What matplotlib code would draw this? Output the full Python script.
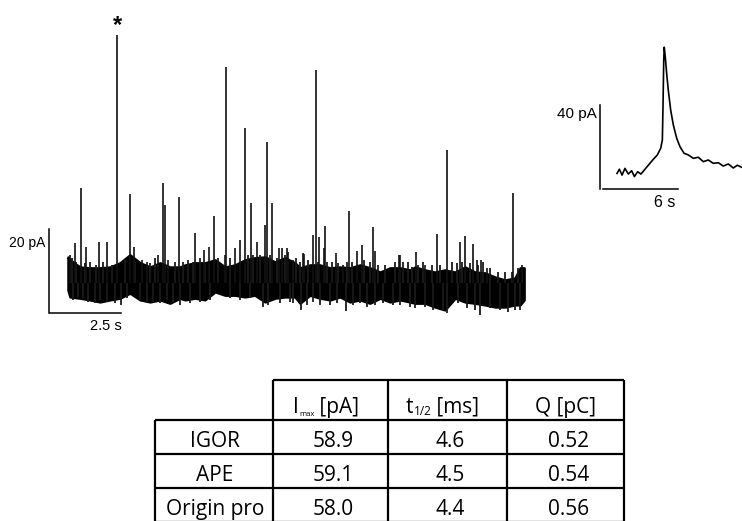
import matplotlib.pyplot as plt

# main recording: noise band envelope (s, pA)
noise_t = [0.00, 0.07, 0.42, 0.77, 1.13, 1.48, 1.83, 2.18, 2.54, 2.89,
           3.24, 3.59, 3.94, 4.12, 4.47, 4.82, 5.18, 5.53, 5.88, 6.23,
           6.58, 6.94, 7.29, 7.64, 7.99, 8.17, 8.52, 8.87, 9.23, 9.58,
           9.93, 10.28, 10.63, 10.99, 11.34, 11.69, 12.04, 12.22, 12.57, 12.92,
           13.27, 13.63, 13.98, 14.33, 14.68, 15.04, 15.39, 15.74, 15.92, 16.06]
noise_hi = [6.2, 5.5, 3.8, 3.6, 3.6, 3.8, 4.8, 6.7, 4.8, 3.8,
            4.8, 3.8, 3.8, 4.3, 4.8, 4.8, 5.5, 3.8, 4.3, 5.5,
            6.0, 6.2, 5.0, 6.0, 4.8, 3.6, 4.3, 4.3, 3.6, 3.8,
            3.6, 4.3, 3.6, 2.6, 3.6, 3.6, 3.1, 3.8, 3.1, 2.6,
            3.1, 2.6, 3.8, 2.6, 2.4, 1.4, 0.7, 1.2, 3.6, 3.6]
noise_lo = [-1.7, -3.3, -3.6, -4.0, -4.5, -4.0, -3.6, -2.4, -4.0, -4.5,
            -4.0, -4.8, -3.6, -4.0, -3.6, -4.0, -2.1, -2.9, -2.9, -3.3,
            -2.9, -4.5, -3.6, -3.3, -3.3, -4.8, -2.9, -3.6, -4.0, -3.3,
            -4.5, -4.0, -4.8, -3.6, -4.5, -4.0, -4.5, -4.8, -4.8, -5.7,
            -6.4, -3.6, -4.5, -4.8, -5.2, -5.7, -5.7, -5.2, -5.2, -4.0]

# events (s, peak pA)
spike_t = [0.25, 0.46, 0.63, 1.09, 1.37, 1.74, 2.18, 2.32, 3.35, 3.40,
           3.91, 4.47, 4.79, 4.96, 5.13, 5.57, 6.06, 6.23, 6.43, 6.94,
           7.00, 7.18, 7.43, 7.71, 8.31, 8.63, 8.72, 8.84, 9.05, 9.44,
           9.88, 10.18, 10.35, 10.73, 10.81, 11.65, 12.25, 12.99, 13.36, 13.80,
           13.98, 14.26, 14.54, 15.68, 15.99,
           0.07, 2.60, 2.78, 3.17, 3.52, 5.53, 5.88, 6.64, 7.52, 7.75,
           7.92, 8.27, 9.03, 9.68, 11.69, 12.57, 14.39, 14.74]
spike_amp = [9.5, 22.6, 8.6, 9.8, 9.8, 59.0, 21.2, 8.6, 23.8, 18.6,
             20.5, 11.9, 7.9, 8.6, 16.0, 51.4, 10.2, 36.9, 19.0, 13.8,
             33.6, 19.0, 8.3, 8.3, 6.9, 11.4, 50.7, 11.0, 13.6, 7.1,
             17.1, 7.6, 9.0, 13.3, 7.6, 6.7, 7.4, 11.7, 31.7, 9.8,
             11.2, 9.3, 5.5, 21.4, 4.3,
             6.7, 5.5, 5.0, 6.7, 5.5, 6.7, 8.3, 9.8, 8.3, 7.4,
             5.5, 7.1, 8.3, 4.3, 6.7, 4.3, 5.5, 3.6]

# small noise excursions on the upper edge (s, pA)
up_t = [0.14, 0.28, 0.60, 0.77, 0.99, 1.23, 1.55, 2.01, 2.36, 2.89,
        3.06, 3.77, 4.05, 4.23, 4.40, 4.65, 4.82, 5.28, 5.70, 6.34,
        6.51, 6.76, 7.11, 7.36, 7.64, 8.03, 8.17, 8.45, 8.80, 9.12,
        9.30, 9.51, 9.82, 10.00, 10.42, 10.63, 10.92, 11.16, 11.51, 11.80,
        11.97, 12.11, 12.32, 12.50, 12.82, 13.10, 13.52, 13.70, 13.87, 14.15,
        14.44, 14.61, 14.86, 15.14, 15.39, 15.63, 15.85]
up_amp = [6.0, 5.0, 4.8, 5.0, 4.3, 5.0, 4.3, 5.5, 5.0, 4.8,
          6.0, 5.0, 5.0, 5.5, 5.0, 6.0, 5.0, 6.0, 6.0, 6.7,
          6.7, 6.7, 6.7, 6.0, 6.7, 6.0, 5.0, 5.5, 5.0, 5.0,
          5.0, 4.8, 5.0, 5.0, 5.5, 5.0, 4.3, 4.3, 5.0, 5.0,
          5.0, 3.8, 4.3, 5.0, 4.3, 4.3, 5.0, 4.8, 5.0, 4.8,
          4.3, 5.0, 3.6, 2.6, 2.6, 2.6, 3.6]

# downward excursions (s, pA)
dip_t = [1.86, 6.87, 8.19, 9.79, 13.19, 14.51, 15.49, 15.92,
         0.19, 0.36, 0.54, 0.71, 0.95, 1.13, 1.36, 1.65, 2.07, 2.54,
         2.77, 3.00, 3.24, 3.48, 3.71, 3.94, 4.30, 4.65, 5.00, 5.70,
         6.06, 6.41, 7.04, 7.46, 7.82, 7.92, 8.42, 8.63, 8.87, 9.23,
         9.47, 10.04, 10.28, 10.53, 10.81, 11.09, 11.44, 11.69, 12.04, 12.22,
         12.57, 12.85, 13.35, 13.73, 14.05, 14.33, 14.86, 15.21, 15.74]
dip_amp = [-5.2, -5.7, -6.4, -6.7, -6.4, -7.6, -6.9, -6.4,
           -4.0, -3.3, -3.6, -4.5, -4.8, -4.0, -4.5, -4.8, -3.6, -4.0,
           -4.8, -4.5, -4.8, -4.0, -4.5, -5.2, -4.8, -4.5, -4.0, -3.6,
           -4.0, -3.6, -5.2, -4.8, -4.5, -4.8, -5.2, -4.5, -5.2, -5.2,
           -4.8, -5.2, -4.8, -5.7, -5.2, -4.8, -5.2, -5.2, -5.7, -6.0,
           -5.7, -6.4, -7.1, -4.8, -6.0, -6.4, -6.0, -6.4, -6.4]
star_t = 1.74

# inset: the marked event (s, pA)
event_t = [0.00, 0.19, 0.40, 0.63, 0.90, 1.16, 1.38, 1.64, 1.90, 2.22,
           2.57, 2.88, 3.20, 3.47, 3.60, 3.65, 3.71, 3.75, 3.83, 3.94,
           4.07, 4.26, 4.47, 4.74, 5.00, 5.32, 5.66, 6.06, 6.45, 6.85,
           7.25, 7.64, 8.04, 8.44, 8.83, 9.23, 9.55, 9.90]
event_i = [-0.2, 1.8, -1.0, 2.2, -0.5, 1.1, -1.7, 0.6, -0.5, 1.8,
           4.3, 6.5, 8.6, 11.8, 15.7, 31.6, 53.8, 59.9, 55.4, 47.5,
           39.5, 30.0, 22.9, 16.5, 12.5, 9.4, 8.6, 7.0, 7.5, 5.4,
           6.2, 4.6, 4.9, 3.3, 4.3, 2.4, 3.7, 2.7]

main_bar = (2.5, 20)    # s, pA
inset_bar = (6, 40)

headers = ["max", "1/2", None]
methods = ["IGOR", "APE", "Origin pro"]
imax = ["58.9", "59.1", "58.0"]
t_half = ["4.6", "4.5", "4.4"]
charge = ["0.52", "0.54", "0.56"]

W, H = 742, 521
fig = plt.figure(figsize=(W / 100, H / 100), dpi=100)


def overlay(x0, y0, sx, sy):
    """Full-figure axes whose data origin sits at pixel (x0, y0)."""
    a = fig.add_axes([0, 0, 1, 1])
    a.set_xlim(-x0 / sx, (W - x0) / sx)
    a.set_ylim(-(H - y0) / sy, y0 / sy)
    a.axis("off")
    return a


lbl = dict(family=["Liberation Sans", "DejaVu Sans"], color="black")

# --- main trace
ax = overlay(68, 283, 28.4, 4.2)
ax.fill_between(noise_t, noise_lo, noise_hi, color="black", lw=1.8)
ax.vlines(up_t, 0, up_amp, color="#1a1a1a", lw=1.3)
ax.vlines(dip_t, 0, dip_amp, color="#1a1a1a", lw=1.3)
ax.vlines(spike_t, 0, spike_amp, color="#111111", lw=1.2)
ax.text(star_t, 58.6, "*", ha="center", va="bottom", fontsize=17,
        fontweight="bold", **lbl)

bx, by = -0.62, -7.1
ax.plot([bx - 0.05, bx - 0.05], [by, by + main_bar[1]], color="black", lw=1.1)
ax.plot([bx, bx + main_bar[0]], [by, by], color="black", lw=1.1)
ax.text(bx - 0.18, by + main_bar[1] - 3.4, f"{main_bar[1]} pA", ha="right",
        va="center", fontsize=10, **lbl)
ax.text(bx + main_bar[0] + 0.02, by - 1.4, f"{main_bar[0]} s", ha="right",
        va="top", fontsize=10.5, **lbl)

# --- inset event
ins = overlay(617, 173, 12.6, 2.1)
ins.plot(event_t, event_i, color="black", lw=1.2)
ix, iy = -1.15, -7.6
ins.plot([ix - 0.2, ix - 0.2], [iy, iy + inset_bar[1]], color="black", lw=1.1)
ins.plot([ix, ix + inset_bar[0]], [iy, iy], color="black", lw=1.1)
ins.text(ix - 0.45, iy + inset_bar[1] - 4.5, f"{inset_bar[1]} pA", ha="right",
         va="center", fontsize=11, **lbl)
ins.text(ix + inset_bar[0] - 0.2, iy - 3.0, f"{inset_bar[0]} s", ha="right",
         va="top", fontsize=11.5, **lbl)

# --- results table (pixel layout)
tab = fig.add_axes([0, 0, 1, 1])
tab.set_xlim(0, W)
tab.set_ylim(H, 0)
tab.axis("off")

cols = [155, 273, 388, 507, 624]
rows = [380, 420, 454, 488, 522]
lw = 1.6
tab.hlines(rows[0], cols[1], cols[-1], color="black", lw=lw)
tab.hlines(rows[1:], cols[0], cols[-1], color="black", lw=lw)
tab.vlines(cols[0], rows[1], rows[-1], color="black", lw=lw)
tab.vlines(cols[1:], rows[0], rows[-1], color="black", lw=lw)

tf = dict(family=["Open Sans", "DejaVu Sans"], fontsize=15, color="black")


def header(x, big, sub, rest, subsize):
    a = tab.text(x, rows[1] - 7, big, ha="left", va="baseline", **tf)
    b = tab.annotate(sub, xy=(1, 0), xycoords=a, va="bottom", ha="left",
                     fontsize=subsize, family=tf["family"])
    tab.annotate(rest, xy=(1, 0), xycoords=(b, a), va="bottom", ha="left", **tf)


header(293, "I", headers[0], " [pA]", 5.5)
header(406, "t", headers[1], " [ms]", 8.5)
tab.text((cols[3] + cols[4]) / 2, rows[1] - 7, "Q [pC]", ha="center",
         va="baseline", **tf)

for r, (m, a, b, c) in enumerate(zip(methods, imax, t_half, charge)):
    yb = rows[r + 2] - 7
    tab.text((cols[0] + cols[1]) / 2 + 1, yb, m, ha="center", va="baseline", **tf)
    for k, v in enumerate((a, b, c)):
        tab.text((cols[k + 1] + cols[k + 2]) / 2 + 3, yb, v, ha="center",
                 va="baseline", **tf)

fig.savefig("out.png", dpi=100, facecolor="white")
